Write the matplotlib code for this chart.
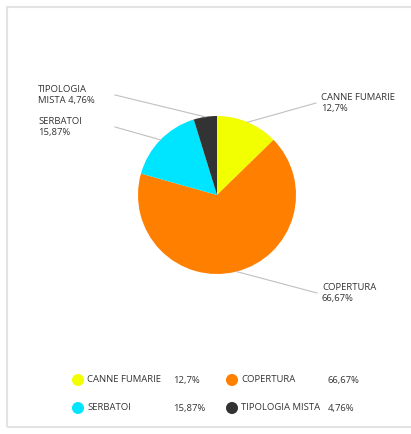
import numpy as np
import matplotlib
matplotlib.use("Agg")
import matplotlib.pyplot as plt
from matplotlib.patches import Rectangle

plt.rcParams['font.family'] = ['Open Sans', 'DejaVu Sans']

# data
categories = ["CANNE FUMARIE", "COPERTURA", "SERBATOI", "TIPOLOGIA MISTA"]
values = [12.7, 66.67, 15.87, 4.76]
colors = ["#f2ff00", "#ff7f00", "#00e5ff", "#333333"]
callout_names = ["CANNE FUMARIE", "COPERTURA", "SERBATOI", "TIPOLOGIA\nMISTA"]

W, H = 411, 434
def Y(y):  # image row -> data y
    return H - y

fig = plt.figure(figsize=(W / 100, H / 100), dpi=100)
ax = fig.add_axes([0, 0, 1, 1])

cx, cy, r = 217, Y(195), 79
wedges, _ = ax.pie(values, colors=colors, startangle=90, counterclock=False,
                   center=(cx, cy), radius=r, wedgeprops=dict(linewidth=0))

ax.set_xlim(0, W)
ax.set_ylim(0, H)
ax.set_aspect('equal')
ax.axis('off')

# frame
ax.add_patch(Rectangle((7, Y(427)), W, 420, fill=False, edgecolor="#e3e3e3", lw=1.5))

pct = [str(v).replace('.', ',') + '%' for v in values]
txt_col = "#333333"
fs = 6.8

# callouts: (line end, text y center)
ends = [(316, 103), (317, 293), (115, 127), (115, 95)]
for i, w in enumerate(wedges):
    ang = np.deg2rad((w.theta1 + w.theta2) / 2)
    x0 = cx + r * np.cos(ang)
    y0 = cy + r * np.sin(ang)
    ex, ey = ends[i]
    ax.plot([x0, ex], [y0, Y(ey)], color="#c0c0c0", lw=0.8)
    if callout_names[i] == "TIPOLOGIA\nMISTA":
        lbl = "TIPOLOGIA\nMISTA " + pct[i]
    else:
        lbl = callout_names[i] + "\n" + pct[i]
    if ex > cx:
        tx = ex + 5
    else:
        tx = 38
    ax.text(tx, Y(ey), lbl, ha='left', va='center', fontsize=fs,
            color=txt_col, linespacing=1.3)

# legend
leg_pos = [(78, 380), (232, 380), (78, 408), (232, 408)]
pct_x = [173, 328, 173, 328]
for i, cat in enumerate(categories):
    lx, ly = leg_pos[i]
    ax.scatter([lx], [Y(ly)], s=75, color=colors[i], edgecolors='none')
    ax.text(lx + 9, Y(ly), cat, ha='left', va='center', fontsize=fs, color=txt_col)
    ax.text(pct_x[i], Y(ly), pct[i], ha='left', va='center', fontsize=fs, color=txt_col)

fig.savefig("out.png", dpi=100)
